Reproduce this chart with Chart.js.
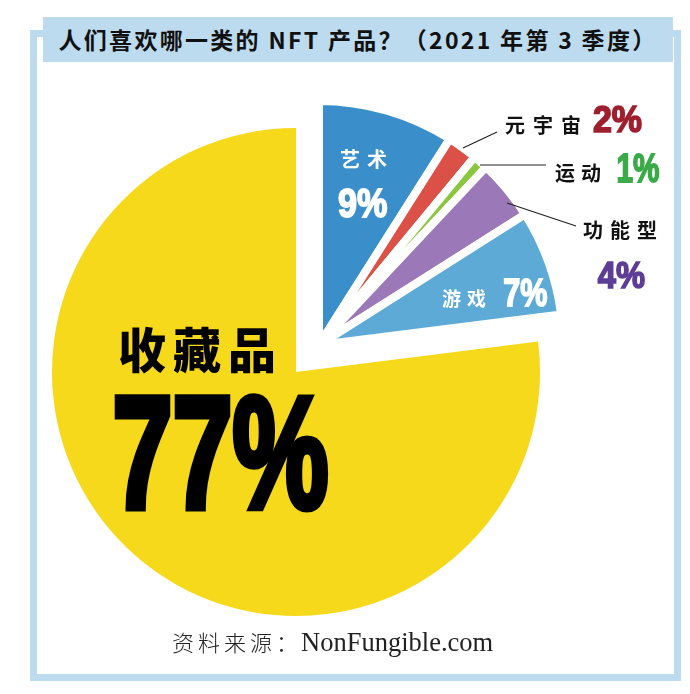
<!DOCTYPE html>
<html>
<head>
  <title>人们喜欢哪一类的 NFT 产品？</title>
  <meta charset="UTF-8">
  <script src="https://cdn.jsdelivr.net/npm/chart.js"></script>
  <style>
    body {
      margin: 0;
      width: 690px;
      height: 694px;
      position: relative;
      overflow: hidden;
      background: #fff;
      font-family: "Noto Sans CJK SC", sans-serif;
    }
    .frame {
      position: absolute;
      left: 30px;
      top: 30px;
      width: 637px;
      height: 637px;
      border: 7px solid #bddbef;
    }
    .title {
      position: absolute;
      left: 43px;
      top: 17px;
      width: 630px;
      height: 45px;
      line-height: 45px;
      background: #bddbef;
      text-align: center;
      font-size: 23px;
      font-weight: bold;
      letter-spacing: 2.3px;
      color: #111;
      white-space: nowrap;
    }
    .source {
      position: absolute;
      left: 172px;
      top: 624px;
      white-space: nowrap;
      color: #222;
      line-height: 34px;
    }
    .source .cn { font-size: 22px; font-weight: 300; letter-spacing: 4px; }
    .source .cn .colon { letter-spacing: 0; margin-right: 3px; }
    .source .en { font-family: "Liberation Serif", serif; font-size: 26.5px; }
    canvas { position: absolute; left: 0; top: 0; }
  </style>
</head>
<body>
  <div class="frame"></div>
  <div class="title">人们喜欢哪一类的 NFT 产品？（2021 年第 3 季度）</div>
  <canvas id="pie" width="690" height="694"></canvas>
  <div class="source"><span class="cn">资料来源<span class="colon">：</span></span><span class="en">NonFungible.com</span></div>

  <script>
    // data, clockwise from 12 o'clock
    const categories = ['艺术', '元宇宙', '运动', '功能型', '游戏', '收藏品'];
    const shares = [9, 2, 1, 4, 7, 77];

    // styles
    const sliceColors = ['#3a8fcb', '#dc5147', '#8cc63f', '#9b78b7', '#5caad5', '#f5d91a'];
    const nameColors = ['#ffffff', '#111111', '#111111', '#111111', '#ffffff', '#000000'];
    const valueColors = ['#ffffff', '#9e1f2e', '#3baa48', '#5e3d96', '#ffffff', '#000000'];

    // the five small slices are pulled out together, up and to the right
    const explode = { x: 23, y: -27 };

    // label layout (name: left / vertical centre, value: ink box)
    const nameBoxes = [
      { x: 340, cy: 159, size: 20, gap: 7, weight: 700 },
      { x: 505, cy: 125, size: 20, gap: 8, weight: 700 },
      { x: 555, cy: 173, size: 20, gap: 6, weight: 700 },
      { x: 583, cy: 230, size: 20, gap: 7, weight: 700 },
      { x: 442, cy: 299, size: 19, gap: 6, weight: 700 },
      { x: 118, cy: 350, size: 48, gap: 7, weight: 900 }
    ];
    const valueBoxes = [
      { x: 338, y: 187, w: 50, h: 31 },
      { x: 593, y: 105, w: 49, h: 28 },
      { x: 617, y: 152, w: 43, h: 31 },
      { x: 597, y: 261, w: 48, h: 28 },
      { x: 503, y: 277, w: 45, h: 30 },
      { x: 113, y: 393, w: 217, h: 120 }
    ];
    const leaders = [
      [463, 148, 497, 132],
      [480, 165, 546, 165],
      [507, 203, 576, 226]
    ];

    const numberFont = '"Liberation Sans", Arial, sans-serif';

    function drawSpaced(ctx, text, box, color) {
      let x = box.x;
      ctx.font = box.weight + ' ' + box.size + 'px "Noto Sans CJK SC"';
      ctx.fillStyle = color;
      ctx.textBaseline = 'middle';
      ctx.textAlign = 'left';
      for (const ch of text) {
        ctx.fillText(ch, x, box.cy);
        x += ctx.measureText(ch).width + box.gap;
      }
    }

    // squeeze heavy digits into the ink box
    function drawFitted(ctx, text, box, color) {
      const lw = Math.max(1.5, box.h * 0.06);
      ctx.textBaseline = 'alphabetic';
      ctx.textAlign = 'left';
      ctx.font = 'bold 100px ' + numberFont;
      let m = ctx.measureText(text);
      const size = 100 * (box.h - lw) / (m.actualBoundingBoxAscent + m.actualBoundingBoxDescent);
      ctx.font = 'bold ' + size + 'px ' + numberFont;
      m = ctx.measureText(text);
      const sx = (box.w - lw) / (m.actualBoundingBoxLeft + m.actualBoundingBoxRight);
      ctx.save();
      ctx.translate(box.x + lw / 2 + m.actualBoundingBoxLeft * sx,
                    box.y + box.h - lw / 2 - m.actualBoundingBoxDescent);
      ctx.scale(sx, 1);
      ctx.fillStyle = color;
      ctx.strokeStyle = color;
      ctx.lineWidth = lw;
      ctx.lineJoin = 'miter';
      ctx.fillText(text, 0, 0);
      ctx.strokeText(text, 0, 0);
      ctx.restore();
    }

    const explodePlugin = {
      id: 'explode',
      afterDatasetsUpdate(chart) {
        chart.getDatasetMeta(0).data.forEach((arc, i) => {
          if (i === shares.length - 1) return;
          arc.x += explode.x;
          arc.y += explode.y;
        });
      }
    };

    const labelPlugin = {
      id: 'sliceLabels',
      afterDatasetsDraw(chart) {
        const ctx = chart.ctx;
        ctx.save();
        ctx.strokeStyle = '#222';
        ctx.lineWidth = 1.2;
        leaders.forEach(([x1, y1, x2, y2]) => {
          ctx.beginPath();
          ctx.moveTo(x1, y1);
          ctx.lineTo(x2, y2);
          ctx.stroke();
        });
        categories.forEach((name, i) => {
          drawSpaced(ctx, name, nameBoxes[i], nameColors[i]);
          drawFitted(ctx, shares[i] + '%', valueBoxes[i], valueColors[i]);
        });
        ctx.restore();
      }
    };

    new Chart(document.getElementById('pie'), {
      type: 'pie',
      data: {
        labels: categories,
        datasets: [{
          data: shares,
          backgroundColor: sliceColors,
          borderColor: '#ffffff',
          borderWidth: shares.map((v, i) => i < shares.length - 1 ? 8 : 0)
        }]
      },
      options: {
        responsive: false,
        animation: false,
        devicePixelRatio: 1,
        radius: 244,
        layout: { padding: { left: 0, right: 98, top: 50, bottom: 0 } },
        plugins: {
          legend: { display: false },
          tooltip: { enabled: false }
        }
      },
      plugins: [explodePlugin, labelPlugin]
    });
  </script>
</body>
</html>
